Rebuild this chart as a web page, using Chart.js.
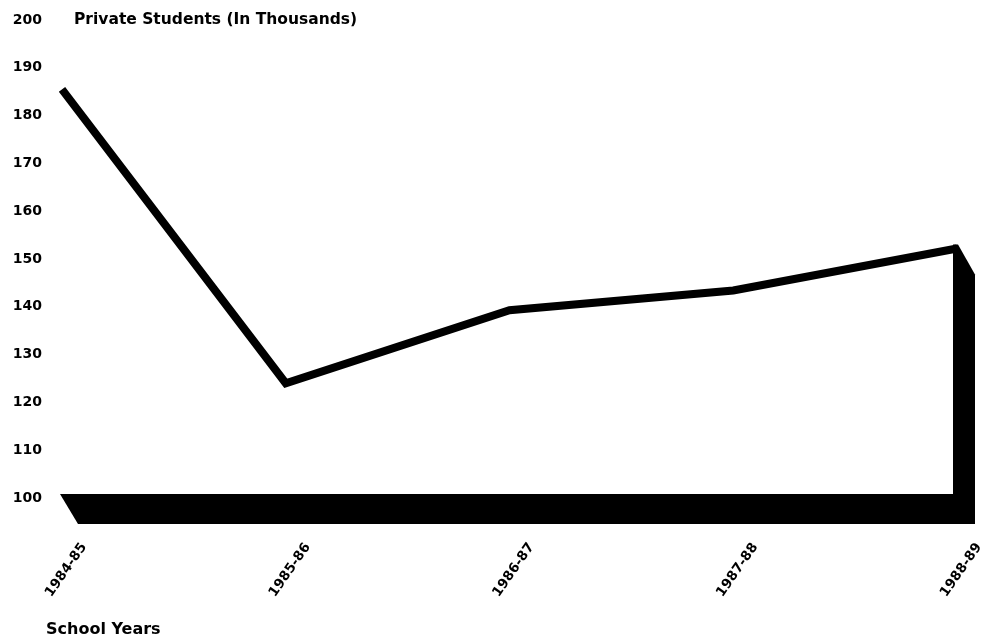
<!DOCTYPE html>
<html>
<head>
<meta charset="utf-8">
<script src="https://cdn.jsdelivr.net/npm/chart.js@4.4.1/dist/chart.umd.min.js"></script>
<style>
  html, body { margin: 0; padding: 0; background: #fff; }
  #wrap { width: 988px; height: 640px; position: relative; }
</style>
</head>
<body>
<div id="wrap"><canvas id="chart" width="988" height="640"></canvas></div>
<script>
// School years on the horizontal axis
const schoolYears = ['1984-85', '1985-86', '1986-87', '1987-88', '1988-89'];
// Private school students, in thousands
const privateStudents = [185.5, 124, 139.3, 143.4, 152.2];
// Vertical axis range and step
const yMin = 100;
const yMax = 200;
const yStep = 10;

const valueTitle = 'Private Students (In Thousands)';
const categoryTitle = 'School Years';

const FONT = '"DejaVu Sans", "Liberation Sans", Arial, sans-serif';

// Draws the black "depth" floor under the line and the side wall at its right end
const depthPlugin = {
  id: 'depth',
  beforeDatasetsDraw(chart) {
    const { ctx, scales } = chart;
    const meta = chart.getDatasetMeta(0);
    const pts = meta.data;
    if (!pts.length) return;
    const x0 = pts[0].x;
    const xN = pts[pts.length - 1].x;
    const yN = pts[pts.length - 1].y;
    const base = scales.y.getPixelForValue(yMin) - 4;
    const dx = 18, dy = 30;
    ctx.save();
    ctx.fillStyle = '#000';
    // floor band
    ctx.beginPath();
    ctx.moveTo(x0 - 2, base);
    ctx.lineTo(xN, base);
    ctx.lineTo(xN + dx, base + dy);
    ctx.lineTo(x0 + dx - 2, base + dy);
    ctx.closePath();
    ctx.fill();
    // right side wall
    ctx.beginPath();
    ctx.moveTo(xN - 4, yN - 4);
    ctx.lineTo(xN + 1, yN - 4);
    ctx.lineTo(xN + dx, yN + dy - 4);
    ctx.lineTo(xN + dx, base + dy);
    ctx.lineTo(xN - 4, base + dy);
    ctx.closePath();
    ctx.fill();
    ctx.restore();
  },
  afterDraw(chart) {
    const { ctx, scales, chartArea } = chart;
    ctx.save();
    ctx.fillStyle = '#000';
    ctx.textAlign = 'left';
    ctx.textBaseline = 'middle';
    ctx.font = 'bold 15.5px ' + FONT;
    ctx.fillText(valueTitle, chartArea.left + 12, scales.y.getPixelForValue(yMax));
    ctx.font = 'bold 16px ' + FONT;
    ctx.fillText(categoryTitle, chartArea.left - 16, chart.height - 10);
    ctx.restore();
  }
};

new Chart(document.getElementById('chart'), {
  type: 'line',
  data: {
    labels: schoolYears,
    datasets: [{
      data: privateStudents,
      borderColor: '#000',
      borderWidth: 8,
      borderJoinStyle: 'miter',
      borderCapStyle: 'butt',
      pointRadius: 0,
      tension: 0,
      fill: false
    }]
  },
  options: {
    responsive: false,
    animation: false,
    layout: { padding: { left: 10, right: 31, top: 20, bottom: 0 } },
    plugins: {
      legend: { display: false },
      tooltip: { enabled: false },
      title: { display: false }
    },
    scales: {
      x: {
        offset: false,
        grid: { display: false, drawTicks: false },
        border: { display: false },
        ticks: {
          autoSkip: false,
          maxRotation: 55,
          minRotation: 55,
          padding: 42,
          labelOffset: 22,
          color: '#000',
          font: { family: FONT, size: 13.5, weight: 'bold' }
        },
        afterFit(scale) {
          scale.height = 142;
          scale.paddingLeft = 0;
          scale.paddingRight = 0;
        }
      },
      y: {
        min: yMin,
        max: yMax,
        grid: { display: false, drawTicks: false },
        border: { display: false },
        ticks: {
          stepSize: yStep,
          padding: 20,
          color: '#000',
          font: { family: FONT, size: 14, weight: 'bold' }
        },
        afterFit(scale) {
          scale.width = 52;
          scale.paddingTop = 0;
          scale.paddingBottom = 0;
        }
      }
    }
  },
  plugins: [depthPlugin]
});
</script>
</body>
</html>
